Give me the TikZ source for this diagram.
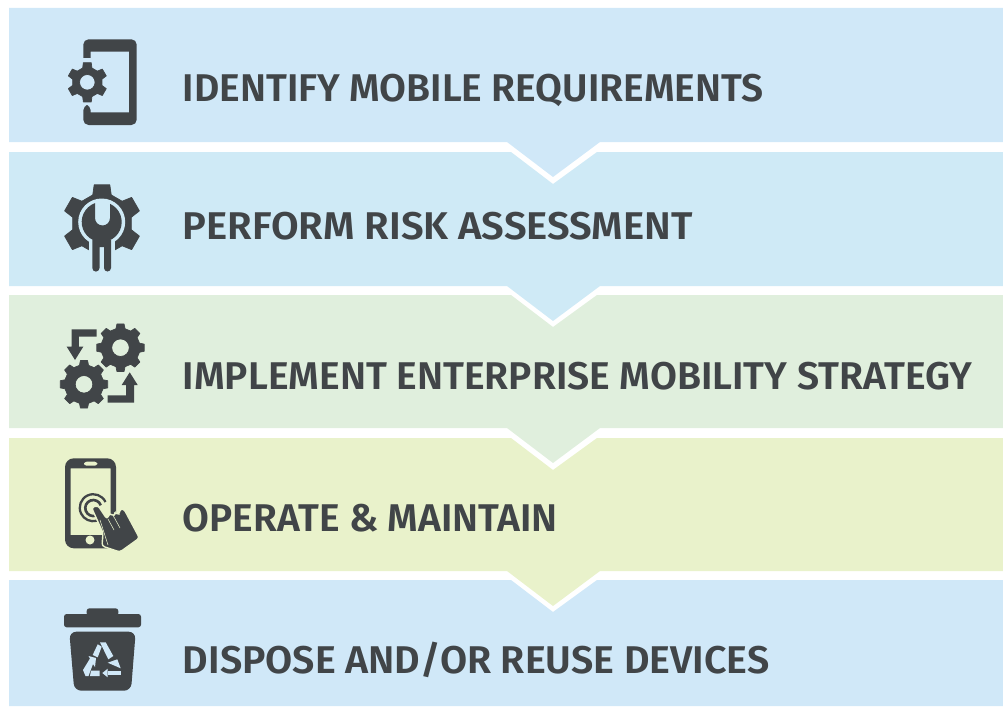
\documentclass[tikz,border=0pt]{standalone}
\usepackage{fontspec}
\setmainfont{Fira Sans SemiBold}
\usepackage{tikz}

\definecolor{bandblue}{HTML}{D0E8F8}
\definecolor{bandcyan}{HTML}{CFEAF6}
\definecolor{bandgreen}{HTML}{E0EFDD}
\definecolor{bandlime}{HTML}{E9F2CB}
\definecolor{icondark}{HTML}{414548}

\tikzset{
  iconfill/.style={fill=icondark, draw=none},
  steplabel/.style={anchor=base west, text=icondark, transform shape, font=\fontsize{22}{26}\selectfont},
}

% gear: x, y, outer radius, root radius, hole radius, teeth
\newcommand{\gearshape}[6]{
  \pgfmathsetmacro{\gearstep}{360/#6}
  \filldraw [fill=icondark, draw=icondark, line width=0.4pt, line join=round, even odd rule, shift={(#1,-#2)}]
    ({90-0.30*\gearstep}:#4)
    \foreach \k in {0,...,\numexpr#6-1\relax} {
      -- ({90+\k*\gearstep-0.19*\gearstep}:#3)
      -- ({90+\k*\gearstep+0.19*\gearstep}:#3)
      -- ({90+\k*\gearstep+0.30*\gearstep}:#4)
      -- ({90+\k*\gearstep+0.70*\gearstep}:#4)
    } -- cycle
    (0,0) circle (#5);
}

\begin{document}
\begin{tikzpicture}[x=0.02cm,y=0.02cm]
\tikzstyle{every node}+=[inner sep=0pt]
\useasboundingbox (0,0) rectangle (1003,-706);
% bands
\fill [bandblue] (9,-8) -- (1003,-8) -- (1003,-142) -- (600,-142) -- (553,-177) -- (507,-142) -- (9,-142) -- cycle;
\fill [bandcyan] (9,-152) -- (511,-152) -- (553,-184) -- (597,-152) -- (1003,-152) -- (1003,-286) -- (600,-286) -- (553,-321) -- (507,-286) -- (9,-286) -- cycle;
\fill [bandgreen] (9,-295) -- (511,-295) -- (553,-327) -- (597,-295) -- (1003,-295) -- (1003,-428) -- (600,-428) -- (553,-463) -- (507,-428) -- (9,-428) -- cycle;
\fill [bandlime] (9,-438) -- (511,-438) -- (553,-470) -- (597,-438) -- (1003,-438) -- (1003,-571) -- (600,-571) -- (553,-606) -- (507,-571) -- (9,-571) -- cycle;
\fill [bandblue] (9,-580) -- (511,-580) -- (553,-612) -- (597,-580) -- (1003,-580) -- (1003,-706) -- (9,-706) -- cycle;
% labels
\node [steplabel, xscale=1.008] (identify) at (182.5,-101) {IDENTIFY MOBILE REQUIREMENTS};
\node [steplabel, xscale=1.036] (perform) at (182.5,-239) {PERFORM RISK ASSESSMENT};
\node [steplabel, xscale=1.011] (implement) at (182.5,-389) {IMPLEMENT ENTERPRISE MOBILITY STRATEGY};
\node [steplabel, xscale=1.007] (operate) at (182.5,-531) {OPERATE \& MAINTAIN};
\node [steplabel, xscale=1.018] (dispose) at (182.5,-673) {DISPOSE AND/OR REUSE DEVICES};
% phone with gear
\fill [iconfill, rounded corners=3pt] (83.3,-58) -- (83.3,-39.3) -- (136.7,-39.3) -- (136.7,-125) -- (83.3,-125) -- (83.3,-105) -- (90.7,-105) [sharp corners] -- (90.7,-112.3) -- (129,-112.3) -- (129,-51.7) -- (90.7,-51.7) -- (90.7,-58) -- cycle;
\gearshape{87.3}{82.3}{20}{15}{7.8}{6}
% gear with wrench
\gearshape{102}{223.5}{39.5}{30}{0.01}{6}
\fill [bandcyan] (101.7,-222) circle (23.5);
\fill [bandcyan] (88.5,-235) rectangle (115,-272);
\fill [iconfill] (92.3,-240) -- (92.3,-268) arc (180:360:3.6) -- (99.5,-247) -- (104,-247) -- (104,-268) arc (180:360:3.5) -- (111,-240) -- cycle;
\fill [iconfill] (95,-203.2) -- (95,-218) arc (180:360:7.5) -- (110,-203.8) arc (65.5:-249.6:20) -- cycle;
% gears with arrows
\gearshape{120.5}{347.7}{24}{19.5}{8.8}{8}
\gearshape{84}{384.3}{24}{19.5}{8.8}{8}
\fill [iconfill] (96.7,-329.3) -- (71.5,-329.3) -- (71.5,-346.7) -- (66.7,-346.7) -- (75,-360) -- (83.3,-346.7) -- (78.8,-346.7) -- (78.8,-336.6) -- (96.7,-336.6) -- cycle;
\fill [iconfill] (107.7,-402.7) -- (134,-402.7) -- (134,-385) -- (137.7,-385) -- (129.7,-372.3) -- (121.7,-385) -- (126,-385) -- (126,-395.4) -- (107.7,-395.4) -- cycle;
% phone with hand
\fill [iconfill, even odd rule, rounded corners=5pt] (65,-458.3) rectangle (116,-548.3)
  [sharp corners] (70.7,-468.3) rectangle (110.7,-535);
\fill [bandlime, rounded corners=1.5pt] (84,-461.7) rectangle (97.3,-465.7);
\fill [bandlime] (90,-540) circle (4.5);
\draw [icondark, line width=1.3pt] (105.5,-502) arc (25:285:13.5);
\draw [icondark, line width=1.5pt] (100.8,-505.3) arc (20:290:8);
\filldraw [fill=icondark, draw=bandlime, line width=0.8pt, rounded corners=1.5pt] (91.5,-507.5) -- (98,-505.5) -- (107,-519) -- (110,-513) -- (114,-516.5) -- (115,-512) -- (119,-515) -- (120,-509) -- (124,-509) -- (139.5,-538) -- (120,-552) -- (102,-546) -- (103,-533) -- cycle;
\draw [bandlime, line width=0.3pt] (100,-520) -- (108,-545);
\draw [bandlime, line width=0.3pt] (108,-519) -- (114,-530);
\draw [bandlime, line width=0.3pt] (114,-517) -- (120,-528);
% recycling bin
\fill [iconfill, rounded corners=1.5pt] (64,-614) rectangle (141,-627.3);
\fill [iconfill, rounded corners=1.5pt] (86.7,-608.3) rectangle (118.3,-616);
\fill [iconfill, rounded corners=4pt] (69.3,-631.7) -- (135.7,-631.7) -- (131,-690.7) -- (74.3,-690.7) -- cycle;
\fill [bandblue] (92.7,-655) -- (97.7,-644.3) -- (101.7,-646.7) -- (97.7,-657.3) -- cycle;
\fill [bandblue] (100,-642.3) -- (105.7,-642.3) -- (113.3,-656) -- (108.3,-659.3) -- cycle;
\fill [bandblue] (107.7,-662.7) -- (117.3,-659.3) -- (120.7,-668.3) -- cycle;
\fill [bandblue] (108.3,-670.7) -- (121,-670.7) -- (121,-675.3) -- (108.3,-675.3) -- cycle;
\fill [bandblue] (102.3,-673) -- (107.7,-668.7) -- (107.7,-677.3) -- cycle;
\fill [bandblue] (91,-670.7) -- (99.7,-670.7) -- (99.7,-676) -- (90,-676) -- cycle;
\fill [bandblue] (85.5,-676) -- (83,-670) -- (90,-658.5) -- (88.5,-656) -- (96,-658) -- (95,-667) -- (93,-664) -- (88.5,-676) -- cycle;
\end{tikzpicture}
\end{document}
